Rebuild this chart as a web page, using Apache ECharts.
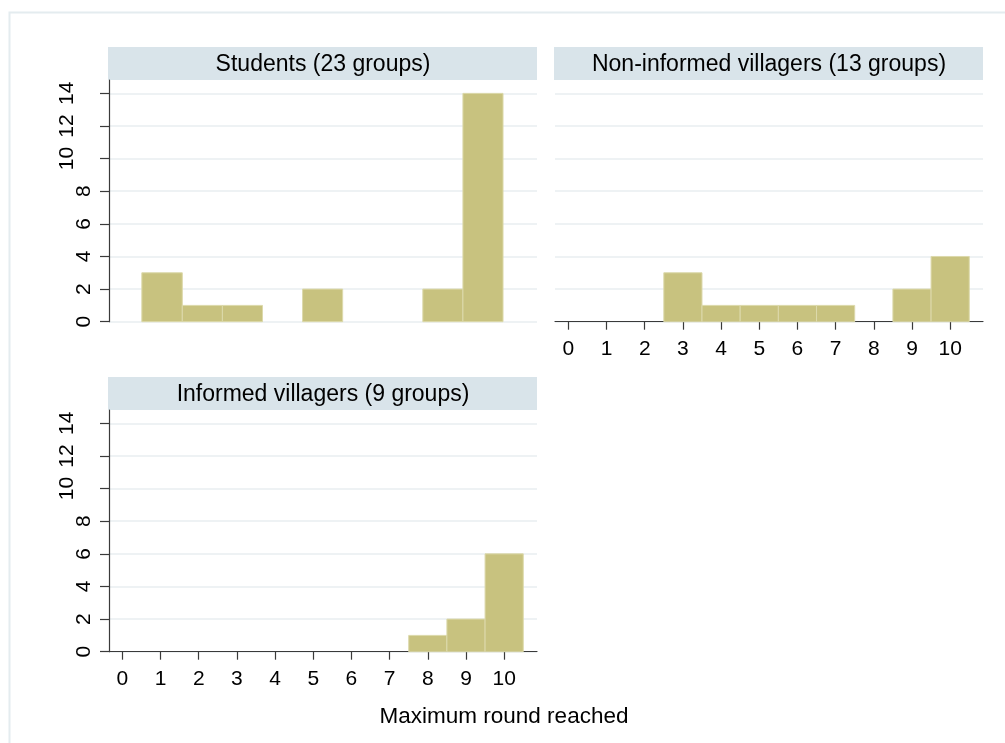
<!DOCTYPE html>
<html>
<head>
<meta charset="utf-8">
<script src="https://cdn.jsdelivr.net/npm/echarts@6/dist/echarts.min.js"></script>
<style>
  html, body { margin: 0; padding: 0; background: #ffffff; }
  #chart { width: 1005px; height: 743px; }
</style>
</head>
<body>
<div id="chart"></div>
<script>
// Panel headings and axis text
const panelTitles = ['Students (23 groups)', 'Non-informed villagers (13 groups)', 'Informed villagers (9 groups)'];
const xTitle = 'Maximum round reached';
const xTickValues = [0, 1, 2, 3, 4, 5, 6, 7, 8, 9, 10];
const yTickValues = [0, 2, 4, 6, 8, 10, 12, 14];

// Students: histogram bin edges and the number of groups in each bin
const studentBinEdges = [0.51, 1.57, 2.62, 3.67, 4.72, 5.77, 6.82, 7.87, 8.92, 9.97];
const studentCounts = [3, 1, 1, 0, 2, 0, 0, 2, 14];

// Villagers: one bin per round reached
const rounds = [0, 1, 2, 3, 4, 5, 6, 7, 8, 9, 10];
const nonInformedCounts = [0, 0, 0, 3, 1, 1, 1, 1, 0, 2, 4];
const informedCounts = [0, 0, 0, 0, 0, 0, 0, 0, 1, 2, 6];

const FONT = '"Liberation Sans", Arial, Helvetica, sans-serif';
const BAR_FILL = '#c8c27f';
const BAR_EDGE = '#dcd9ab';
const GRID_LINE = '#e8eef1';
const AXIS_COLOR = '#3a3a3a';
const HEADER_FILL = '#d9e4ea';
const TICK_FONT = 21;

const studentBins = studentCounts.map((c, i) => [studentBinEdges[i], studentBinEdges[i + 1], c]);
const roundBins = counts => rounds.map((r, i) => [r - 0.5, r + 0.5, counts[i]]);

// Plot rectangles (pixels) for the three panels
const panels = [
  { left: 109, top: 80, width: 428, height: 241.7, showX: false, showY: true },
  { left: 555, top: 80, width: 428, height: 241.7, showX: true, showY: false },
  { left: 109, top: 410, width: 428, height: 241.7, showX: true, showY: true }
];
const HEADER_H = 33;

function renderBin(params, api) {
  const n = api.value(2);
  if (!n) return null;
  const p0 = api.coord([api.value(0), n]);
  const p1 = api.coord([api.value(1), 0]);
  return {
    type: 'rect',
    shape: { x: p0[0], y: p0[1], width: p1[0] - p0[0], height: p1[1] - p0[1] },
    style: { fill: BAR_FILL, stroke: BAR_EDGE, lineWidth: 1 }
  };
}

// Two-digit labels sit a little further out from the axis
function yLabel(v) {
  return v >= 10 ? '{w|' + v + '}' : String(v);
}

const grids = panels.map(p => ({ left: p.left, top: p.top, width: p.width, height: p.height }));

const xAxes = panels.map((p, i) => ({
  type: 'value', gridIndex: i, min: -0.35, max: 10.86,
  show: p.showX,
  axisLine: { show: true, onZero: false, lineStyle: { color: AXIS_COLOR, width: 1.2 } },
  axisTick: { show: true, length: 8, customValues: xTickValues, lineStyle: { color: AXIS_COLOR, width: 1.2 } },
  axisLabel: { show: true, customValues: xTickValues, fontSize: TICK_FONT, fontFamily: FONT, color: '#000', margin: 17 },
  splitLine: { show: false }
}));

const yAxes = panels.map((p, i) => ({
  type: 'value', gridIndex: i, min: 0, max: 14.82,
  axisLine: { show: p.showY, onZero: false, lineStyle: { color: AXIS_COLOR, width: 1.2 } },
  axisTick: { show: p.showY, length: 9, customValues: yTickValues, lineStyle: { color: AXIS_COLOR, width: 1.2 } },
  axisLabel: {
    show: p.showY, customValues: yTickValues, rotate: 90, fontSize: TICK_FONT, fontFamily: FONT,
    color: '#000', margin: 14, formatter: yLabel,
    rich: {
      w: { fontSize: TICK_FONT, fontFamily: FONT, color: '#000', padding: [0, 0, 17, 0] }
    }
  },
  splitLine: { show: true, lineStyle: { color: GRID_LINE, width: 1.5 } }
}));

const series = [studentBins, roundBins(nonInformedCounts), roundBins(informedCounts)].map((d, i) => ({
  type: 'custom', xAxisIndex: i, yAxisIndex: i,
  encode: { x: [0, 1], y: 2 },
  renderItem: renderBin,
  data: d,
  silent: true
}));

const graphics = [
  { type: 'rect', shape: { x: 9.5, y: 12.5, width: 1100, height: 800 },
    style: { fill: 'none', stroke: '#e4ecef', lineWidth: 2 }, z: -10 }
];
panels.forEach((p, i) => {
  graphics.push({
    type: 'rect',
    shape: { x: p.left - 1, y: p.top - HEADER_H, width: p.width + 1, height: HEADER_H },
    style: { fill: HEADER_FILL }
  });
  graphics.push({
    type: 'text',
    x: p.left + p.width / 2, y: p.top - HEADER_H / 2 + 1,
    style: { text: panelTitles[i], font: '23px ' + FONT, fill: '#000', align: 'center', verticalAlign: 'middle' }
  });
});
graphics.push({
  type: 'text', x: 504, y: 717,
  style: { text: xTitle, font: '22.5px ' + FONT, fill: '#000', align: 'center', verticalAlign: 'middle' }
});

const chart = echarts.init(document.getElementById('chart'), null, { renderer: 'canvas' });
chart.setOption({
  backgroundColor: '#ffffff',
  animation: false,
  grid: grids,
  xAxis: xAxes,
  yAxis: yAxes,
  series: series,
  graphic: graphics
});
</script>
</body>
</html>
